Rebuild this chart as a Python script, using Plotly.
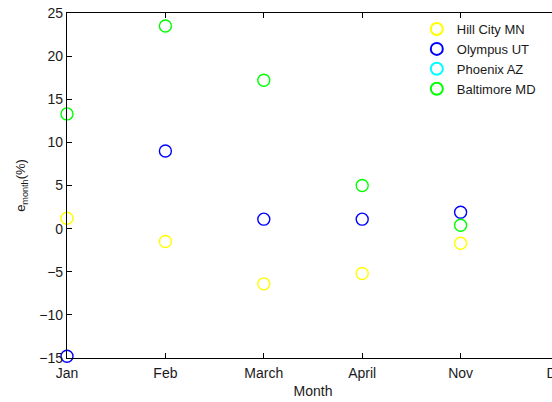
import plotly.graph_objects as go

months = ["Jan", "Feb", "March", "April", "Nov", "Dec"]
data_months = ["Jan", "Feb", "March", "April", "Nov"]

hill_city = [1.2, -1.5, -6.4, -5.2, -1.7]
olympus = [-14.8, 9.0, 1.1, 1.1, 1.9]
phoenix = [None, None, None, None, None]
baltimore = [13.3, 23.5, 17.2, 5.0, 0.4]

series = [
    ("Hill City MN", hill_city, "#ffff00"),
    ("Olympus UT", olympus, "#0000ff"),
    ("Phoenix AZ", phoenix, "#00ffff"),
    ("Baltimore MD", baltimore, "#00ff00"),
]

yticks = [-15, -10, -5, 0, 5, 10, 15, 20, 25]

FONT = "Liberation Sans, Arial, Helvetica, sans-serif"

fig = go.Figure()
for name, vals, color in series:
    fig.add_trace(go.Scatter(
        x=data_months, y=vals, name=name, mode="markers",
        marker=dict(symbol="circle-open", size=12, color=color,
                    line=dict(width=1.4, color=color)),
        cliponaxis=False,
    ))

W = 620
left = 67
plot_w = 492.5
fig.update_layout(
    width=W, height=402,
    margin=dict(l=left, r=W - left - plot_w, t=13, b=44, autoexpand=False),
    paper_bgcolor="white", plot_bgcolor="white",
    font=dict(family=FONT, size=14, color="#1a1a1a"),
    showlegend=True,
    legend=dict(x=0.711, y=0.997, xanchor="left", yanchor="top",
                bgcolor="rgba(0,0,0,0)", borderwidth=0,
                font=dict(size=13), tracegroupgap=0, itemsizing="constant"),
    xaxis=dict(
        type="category", categoryarray=months, categoryorder="array",
        tickvals=months, ticktext=months, automargin=False,
        range=[0, 5], showgrid=False, zeroline=False,
        showline=True, linecolor="black", linewidth=1.2, mirror="ticks",
        ticks="inside", ticklen=5, tickcolor="black", ticklabelstandoff=2,
        title=dict(text="Month", standoff=6, font=dict(size=14)),
        tickfont=dict(size=14),
    ),
    yaxis=dict(
        range=[-15, 25], tickvals=yticks, showgrid=False, zeroline=False,
        automargin=False,
        showline=True, linecolor="black", linewidth=1.2, mirror="ticks",
        ticks="inside", ticklen=5, tickcolor="black",
        title=dict(text="e<sub>month</sub>(%)", standoff=10, font=dict(size=13)),
        tickfont=dict(size=14),
    ),
)

fig.write_html("out.html",
               config={"displayModeBar": False},
               post_script="document.body.style.margin='0';document.body.style.overflow='hidden';document.documentElement.style.overflow='hidden';")
